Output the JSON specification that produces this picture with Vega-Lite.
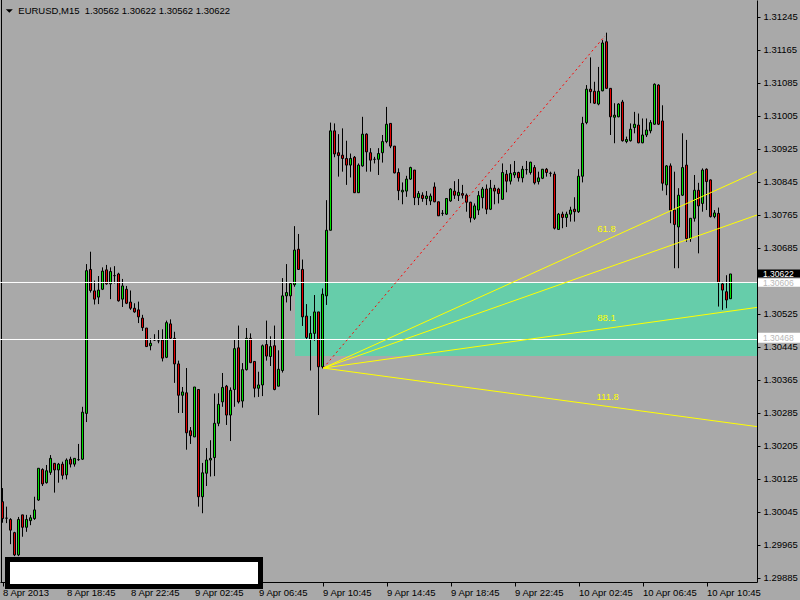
{
"$schema":"https://vega.github.io/schema/vega-lite/v6.json",
"width":757,"height":582,
"autosize":{"type":"none"},
"padding":{"left":0,"top":0,"right":43,"bottom":18},
"background":"#a9a9a9",
"config":{"view":{"stroke":null,"fill":"#a9a9a9"},"font":"Liberation Sans"},
"resolve":{"axis":{"x":"independent","y":"independent"}},
"datasets":{"candles":[
{"i":0,"o":1.30070,"h":1.30103,"l":1.30019,"c":1.30029},
{"i":1,"o":1.30030,"h":1.30058,"l":1.30018,"c":1.30030},
{"i":2,"o":1.30027,"h":1.30030,"l":1.29967,"c":1.30001},
{"i":3,"o":1.29995,"h":1.29997,"l":1.29938,"c":1.29941},
{"i":4,"o":1.29941,"h":1.30033,"l":1.29938,"c":1.30027},
{"i":5,"o":1.30038,"h":1.30038,"l":1.29985,"c":1.30008},
{"i":6,"o":1.30008,"h":1.30038,"l":1.29997,"c":1.30027},
{"i":7,"o":1.30024,"h":1.30038,"l":1.30013,"c":1.30031},
{"i":8,"o":1.30029,"h":1.30082,"l":1.30026,"c":1.30050},
{"i":9,"o":1.30074,"h":1.30151,"l":1.30072,"c":1.30151},
{"i":10,"o":1.30148,"h":1.30151,"l":1.30108,"c":1.30113},
{"i":11,"o":1.30116,"h":1.30159,"l":1.30114,"c":1.30145},
{"i":12,"o":1.30141,"h":1.30183,"l":1.30135,"c":1.30175},
{"i":13,"o":1.30163,"h":1.30163,"l":1.30092,"c":1.30147},
{"i":14,"o":1.30147,"h":1.30164,"l":1.30116,"c":1.30161},
{"i":15,"o":1.30161,"h":1.30167,"l":1.30124,"c":1.30134},
{"i":16,"o":1.30135,"h":1.30175,"l":1.30124,"c":1.30171},
{"i":17,"o":1.30173,"h":1.30179,"l":1.30153,"c":1.30161},
{"i":18,"o":1.30161,"h":1.30175,"l":1.30155,"c":1.30175},
{"i":19,"o":1.30172,"h":1.30210,"l":1.30169,"c":1.30172},
{"i":20,"o":1.30173,"h":1.30300,"l":1.30171,"c":1.30287},
{"i":21,"o":1.30284,"h":1.30646,"l":1.30263,"c":1.30630},
{"i":22,"o":1.30633,"h":1.30676,"l":1.30577,"c":1.30582},
{"i":23,"o":1.30581,"h":1.30606,"l":1.30548,"c":1.30561},
{"i":24,"o":1.30566,"h":1.30617,"l":1.30549,"c":1.30583},
{"i":25,"o":1.30585,"h":1.30638,"l":1.30583,"c":1.30629},
{"i":26,"o":1.30632,"h":1.30644,"l":1.30596,"c":1.30598},
{"i":27,"o":1.30598,"h":1.30638,"l":1.30561,"c":1.30628},
{"i":28,"o":1.30618,"h":1.30641,"l":1.30599,"c":1.30618},
{"i":29,"o":1.30622,"h":1.30625,"l":1.30555,"c":1.30557},
{"i":30,"o":1.30561,"h":1.30610,"l":1.30542,"c":1.30593},
{"i":31,"o":1.30585,"h":1.30593,"l":1.30549,"c":1.30551},
{"i":32,"o":1.30554,"h":1.30582,"l":1.30535,"c":1.30539},
{"i":33,"o":1.30539,"h":1.30551,"l":1.30528,"c":1.30530},
{"i":34,"o":1.30535,"h":1.30555,"l":1.30503,"c":1.30518},
{"i":35,"o":1.30515,"h":1.30523,"l":1.30484,"c":1.30492},
{"i":36,"o":1.30491,"h":1.30491,"l":1.30445,"c":1.30446},
{"i":37,"o":1.30448,"h":1.30466,"l":1.30437,"c":1.30454},
{"i":38,"o":1.30462,"h":1.30476,"l":1.30460,"c":1.30462},
{"i":39,"o":1.30460,"h":1.30486,"l":1.30454,"c":1.30460},
{"i":40,"o":1.30462,"h":1.30488,"l":1.30410,"c":1.30418},
{"i":41,"o":1.30420,"h":1.30509,"l":1.30418,"c":1.30504},
{"i":42,"o":1.30501,"h":1.30512,"l":1.30464,"c":1.30466},
{"i":43,"o":1.30466,"h":1.30482,"l":1.30358,"c":1.30404},
{"i":44,"o":1.30404,"h":1.30412,"l":1.30285,"c":1.30328},
{"i":45,"o":1.30328,"h":1.30348,"l":1.30285,"c":1.30336},
{"i":46,"o":1.30334,"h":1.30394,"l":1.30196,"c":1.30237},
{"i":47,"o":1.30242,"h":1.30251,"l":1.30210,"c":1.30230},
{"i":48,"o":1.30227,"h":1.30348,"l":1.30227,"c":1.30348},
{"i":49,"o":1.30342,"h":1.30342,"l":1.30058,"c":1.30082},
{"i":50,"o":1.30082,"h":1.30164,"l":1.30042,"c":1.30140},
{"i":51,"o":1.30139,"h":1.30200,"l":1.30108,"c":1.30171},
{"i":52,"o":1.30171,"h":1.30219,"l":1.30131,"c":1.30175},
{"i":53,"o":1.30177,"h":1.30332,"l":1.30132,"c":1.30260},
{"i":54,"o":1.30260,"h":1.30333,"l":1.30253,"c":1.30306},
{"i":55,"o":1.30312,"h":1.30382,"l":1.30300,"c":1.30347},
{"i":56,"o":1.30350,"h":1.30353,"l":1.30256,"c":1.30280},
{"i":57,"o":1.30280,"h":1.30347,"l":1.30217,"c":1.30340},
{"i":58,"o":1.30342,"h":1.30462,"l":1.30300,"c":1.30441},
{"i":59,"o":1.30443,"h":1.30497,"l":1.30308,"c":1.30312},
{"i":60,"o":1.30314,"h":1.30406,"l":1.30298,"c":1.30390},
{"i":61,"o":1.30390,"h":1.30491,"l":1.30388,"c":1.30466},
{"i":62,"o":1.30466,"h":1.30478,"l":1.30406,"c":1.30407},
{"i":63,"o":1.30410,"h":1.30410,"l":1.30323,"c":1.30345},
{"i":64,"o":1.30345,"h":1.30385,"l":1.30324,"c":1.30353},
{"i":65,"o":1.30353,"h":1.30451,"l":1.30326,"c":1.30448},
{"i":66,"o":1.30451,"h":1.30509,"l":1.30412,"c":1.30423},
{"i":67,"o":1.30422,"h":1.30471,"l":1.30399,"c":1.30446},
{"i":68,"o":1.30448,"h":1.30497,"l":1.30340,"c":1.30342},
{"i":69,"o":1.30350,"h":1.30437,"l":1.30350,"c":1.30391},
{"i":70,"o":1.30388,"h":1.30612,"l":1.30383,"c":1.30569},
{"i":71,"o":1.30569,"h":1.30646,"l":1.30553,"c":1.30577},
{"i":72,"o":1.30569,"h":1.30599,"l":1.30533,"c":1.30599},
{"i":73,"o":1.30596,"h":1.30738,"l":1.30591,"c":1.30680},
{"i":74,"o":1.30682,"h":1.30719,"l":1.30632,"c":1.30633},
{"i":75,"o":1.30633,"h":1.30657,"l":1.30496,"c":1.30518},
{"i":76,"o":1.30520,"h":1.30549,"l":1.30464,"c":1.30468},
{"i":77,"o":1.30464,"h":1.30520,"l":1.30388,"c":1.30478},
{"i":78,"o":1.30478,"h":1.30571,"l":1.30460,"c":1.30530},
{"i":79,"o":1.30530,"h":1.30530,"l":1.30280,"c":1.30397},
{"i":80,"o":1.30397,"h":1.30587,"l":1.30393,"c":1.30573},
{"i":81,"o":1.30569,"h":1.30801,"l":1.30547,"c":1.30728},
{"i":82,"o":1.30728,"h":1.30989,"l":1.30728,"c":1.30969},
{"i":83,"o":1.30969,"h":1.30987,"l":1.30905,"c":1.30913},
{"i":84,"o":1.30916,"h":1.30961,"l":1.30858,"c":1.30909},
{"i":85,"o":1.30910,"h":1.30975,"l":1.30870,"c":1.30902},
{"i":86,"o":1.30902,"h":1.30945,"l":1.30838,"c":1.30886},
{"i":87,"o":1.30886,"h":1.30914,"l":1.30856,"c":1.30902},
{"i":88,"o":1.30905,"h":1.30908,"l":1.30819,"c":1.30819},
{"i":89,"o":1.30819,"h":1.30890,"l":1.30819,"c":1.30886},
{"i":90,"o":1.30884,"h":1.31003,"l":1.30882,"c":1.30961},
{"i":91,"o":1.30961,"h":1.30963,"l":1.30870,"c":1.30918},
{"i":92,"o":1.30916,"h":1.30927,"l":1.30870,"c":1.30898},
{"i":93,"o":1.30900,"h":1.30906,"l":1.30890,"c":1.30900},
{"i":94,"o":1.30900,"h":1.30927,"l":1.30862,"c":1.30914},
{"i":95,"o":1.30916,"h":1.30959,"l":1.30892,"c":1.30943},
{"i":96,"o":1.30943,"h":1.31027,"l":1.30939,"c":1.30985},
{"i":97,"o":1.30987,"h":1.30987,"l":1.30927,"c":1.30932},
{"i":98,"o":1.30932,"h":1.30932,"l":1.30866,"c":1.30867},
{"i":99,"o":1.30868,"h":1.30878,"l":1.30801,"c":1.30824},
{"i":100,"o":1.30821,"h":1.30844,"l":1.30791,"c":1.30825},
{"i":101,"o":1.30823,"h":1.30860,"l":1.30809,"c":1.30852},
{"i":102,"o":1.30852,"h":1.30882,"l":1.30850,"c":1.30880},
{"i":103,"o":1.30874,"h":1.30874,"l":1.30789,"c":1.30807},
{"i":104,"o":1.30807,"h":1.30823,"l":1.30789,"c":1.30817},
{"i":105,"o":1.30813,"h":1.30820,"l":1.30797,"c":1.30805},
{"i":106,"o":1.30805,"h":1.30823,"l":1.30789,"c":1.30811},
{"i":107,"o":1.30799,"h":1.30817,"l":1.30789,"c":1.30811},
{"i":108,"o":1.30833,"h":1.30844,"l":1.30796,"c":1.30797},
{"i":109,"o":1.30797,"h":1.30797,"l":1.30763,"c":1.30763},
{"i":110,"o":1.30769,"h":1.30777,"l":1.30763,"c":1.30769},
{"i":111,"o":1.30767,"h":1.30805,"l":1.30765,"c":1.30805},
{"i":112,"o":1.30799,"h":1.30830,"l":1.30797,"c":1.30828},
{"i":113,"o":1.30823,"h":1.30847,"l":1.30804,"c":1.30813},
{"i":114,"o":1.30812,"h":1.30852,"l":1.30799,"c":1.30820},
{"i":115,"o":1.30817,"h":1.30838,"l":1.30805,"c":1.30813},
{"i":116,"o":1.30813,"h":1.30817,"l":1.30773,"c":1.30796},
{"i":117,"o":1.30796,"h":1.30797,"l":1.30747,"c":1.30758},
{"i":118,"o":1.30757,"h":1.30793,"l":1.30753,"c":1.30787},
{"i":119,"o":1.30777,"h":1.30823,"l":1.30765,"c":1.30812},
{"i":120,"o":1.30807,"h":1.30833,"l":1.30781,"c":1.30828},
{"i":121,"o":1.30828,"h":1.30839,"l":1.30767,"c":1.30779},
{"i":122,"o":1.30779,"h":1.30850,"l":1.30777,"c":1.30830},
{"i":123,"o":1.30830,"h":1.30838,"l":1.30791,"c":1.30823},
{"i":124,"o":1.30828,"h":1.30831,"l":1.30793,"c":1.30817},
{"i":125,"o":1.30803,"h":1.30890,"l":1.30803,"c":1.30868},
{"i":126,"o":1.30864,"h":1.30874,"l":1.30820,"c":1.30847},
{"i":127,"o":1.30847,"h":1.30888,"l":1.30839,"c":1.30866},
{"i":128,"o":1.30862,"h":1.30896,"l":1.30855,"c":1.30868},
{"i":129,"o":1.30868,"h":1.30870,"l":1.30846,"c":1.30855},
{"i":130,"o":1.30855,"h":1.30884,"l":1.30844,"c":1.30876},
{"i":131,"o":1.30875,"h":1.30896,"l":1.30863,"c":1.30875},
{"i":132,"o":1.30868,"h":1.30894,"l":1.30863,"c":1.30893},
{"i":133,"o":1.30880,"h":1.30886,"l":1.30839,"c":1.30843},
{"i":134,"o":1.30846,"h":1.30870,"l":1.30839,"c":1.30855},
{"i":135,"o":1.30854,"h":1.30876,"l":1.30852,"c":1.30876},
{"i":136,"o":1.30876,"h":1.30879,"l":1.30858,"c":1.30868},
{"i":137,"o":1.30866,"h":1.30870,"l":1.30858,"c":1.30866},
{"i":138,"o":1.30864,"h":1.30870,"l":1.30730,"c":1.30733},
{"i":139,"o":1.30730,"h":1.30770,"l":1.30730,"c":1.30767},
{"i":140,"o":1.30767,"h":1.30773,"l":1.30733,"c":1.30759},
{"i":141,"o":1.30759,"h":1.30773,"l":1.30736,"c":1.30767},
{"i":142,"o":1.30767,"h":1.30785,"l":1.30749,"c":1.30777},
{"i":143,"o":1.30779,"h":1.30808,"l":1.30749,"c":1.30773},
{"i":144,"o":1.30773,"h":1.30876,"l":1.30770,"c":1.30859},
{"i":145,"o":1.30859,"h":1.31003,"l":1.30844,"c":1.30987},
{"i":146,"o":1.30989,"h":1.31080,"l":1.30985,"c":1.31070},
{"i":147,"o":1.31070,"h":1.31147,"l":1.31036,"c":1.31064},
{"i":148,"o":1.31065,"h":1.31088,"l":1.31034,"c":1.31036},
{"i":149,"o":1.31034,"h":1.31124,"l":1.31031,"c":1.31065},
{"i":150,"o":1.31066,"h":1.31189,"l":1.31065,"c":1.31182},
{"i":151,"o":1.31185,"h":1.31207,"l":1.31072,"c":1.31072},
{"i":152,"o":1.31072,"h":1.31072,"l":1.30959,"c":1.31003},
{"i":153,"o":1.31002,"h":1.31036,"l":1.30939,"c":1.31007},
{"i":154,"o":1.31003,"h":1.31036,"l":1.31002,"c":1.31034},
{"i":155,"o":1.31039,"h":1.31044,"l":1.30943,"c":1.30945},
{"i":156,"o":1.30943,"h":1.30955,"l":1.30939,"c":1.30948},
{"i":157,"o":1.30945,"h":1.30987,"l":1.30943,"c":1.30973},
{"i":158,"o":1.30977,"h":1.31015,"l":1.30963,"c":1.30985},
{"i":159,"o":1.30983,"h":1.31011,"l":1.30939,"c":1.30940},
{"i":160,"o":1.30940,"h":1.30999,"l":1.30939,"c":1.30959},
{"i":161,"o":1.30959,"h":1.30999,"l":1.30954,"c":1.30971},
{"i":162,"o":1.30969,"h":1.30995,"l":1.30963,"c":1.30989},
{"i":163,"o":1.30985,"h":1.31084,"l":1.30984,"c":1.31082},
{"i":164,"o":1.31080,"h":1.31082,"l":1.30983,"c":1.30985},
{"i":165,"o":1.30993,"h":1.31031,"l":1.30824,"c":1.30842},
{"i":166,"o":1.30838,"h":1.30886,"l":1.30813,"c":1.30884},
{"i":167,"o":1.30884,"h":1.30890,"l":1.30745,"c":1.30777},
{"i":168,"o":1.30777,"h":1.30870,"l":1.30636,"c":1.30742},
{"i":169,"o":1.30736,"h":1.30830,"l":1.30636,"c":1.30813},
{"i":170,"o":1.30813,"h":1.30963,"l":1.30811,"c":1.30880},
{"i":171,"o":1.30886,"h":1.30947,"l":1.30700,"c":1.30708},
{"i":172,"o":1.30708,"h":1.30757,"l":1.30700,"c":1.30757},
{"i":173,"o":1.30757,"h":1.30862,"l":1.30749,"c":1.30825},
{"i":174,"o":1.30825,"h":1.30843,"l":1.30672,"c":1.30787},
{"i":175,"o":1.30793,"h":1.30878,"l":1.30773,"c":1.30874},
{"i":176,"o":1.30876,"h":1.30878,"l":1.30777,"c":1.30846},
{"i":177,"o":1.30850,"h":1.30851,"l":1.30759,"c":1.30761},
{"i":178,"o":1.30761,"h":1.30777,"l":1.30757,"c":1.30770},
{"i":179,"o":1.30769,"h":1.30783,"l":1.30543,"c":1.30601},
{"i":180,"o":1.30598,"h":1.30603,"l":1.30535,"c":1.30583},
{"i":181,"o":1.30579,"h":1.30619,"l":1.30539,"c":1.30559},
{"i":182,"o":1.30562,"h":1.30622,"l":1.30562,"c":1.30622}
]},
"layer":[
{"data":{"values":[{"x1":73.125,"x2":188.625,"p1":1.30600,"p2":1.30423}]},
 "mark":{"type":"rect","fill":"#66cdaa"},
 "encoding":{"x":{"field":"x1","type":"quantitative","scale":{"domain":[-0.625,188.625],"nice":false,"zero":false,"padding":0},"axis":null},"x2":{"field":"x2"},
  "y":{"field":"p1","type":"quantitative","scale":{"domain":[1.298753,1.312862],"nice":false,"zero":false,"padding":0},"axis":null},"y2":{"field":"p2"}}},
{"data":{"values":[{"x":-0.25}]},
 "mark":{"type":"rule","color":"black","strokeWidth":1},
 "encoding":{"x":{"field":"x","type":"quantitative","scale":{"domain":[-0.625,188.625],"nice":false,"zero":false,"padding":0},"axis":null}}},
{"data":{"name":"candles"},
 "mark":{"type":"rule","color":"black","strokeWidth":1},
 "encoding":{
  "x":{"field":"i","type":"quantitative","scale":{"domain":[-0.625,188.625],"nice":false,"zero":false,"padding":0},
   "axis":{"orient":"bottom","title":null,"grid":false,"values":[0,16,32,48,64,80,96,112,128,144,160,176],
    "labelExpr":"['8 Apr 2013','8 Apr 18:45','8 Apr 22:45','9 Apr 02:45','9 Apr 06:45','9 Apr 10:45','9 Apr 14:45','9 Apr 18:45','9 Apr 22:45','10 Apr 02:45','10 Apr 06:45','10 Apr 10:45'][round(datum.value/16)]",
    "labelAlign":"left","labelBaseline":"top","labelPadding":1,"tickSize":4,"tickColor":"black","domainColor":"black","labelColor":"black",
    "labelFont":"Liberation Sans","labelFontSize":9.5,"labelOverlap":false,"labelBound":false,"labelFlush":false}},
  "y":{"field":"l","type":"quantitative","scale":{"domain":[1.298753,1.312862],"nice":false,"zero":false,"padding":0},
   "axis":{"orient":"right","title":null,"grid":false,
    "values":[1.29885,1.29965,1.30045,1.30125,1.30205,1.30285,1.30365,1.30445,1.30525,1.30685,1.30765,1.30845,1.30925,1.31005,1.31085,1.31165,1.31245],
    "format":".5f","tickSize":3,"labelPadding":3,"tickColor":"black","domainColor":"black","labelColor":"black",
    "labelFont":"Liberation Sans","labelFontSize":9.5,"labelOverlap":false,"labelBound":false,"labelFlush":false}},
  "y2":{"field":"h"}}},
{"data":{"name":"candles"},
 "mark":{"type":"bar","size":2,"stroke":"black","strokeWidth":1},
 "encoding":{
  "x":{"field":"i","type":"quantitative","scale":{"domain":[-0.625,188.625],"nice":false,"zero":false,"padding":0},"axis":null},
  "y":{"field":"o","type":"quantitative","scale":{"domain":[1.298753,1.312862],"nice":false,"zero":false,"padding":0},"axis":null},
  "y2":{"field":"c"},
  "color":{"condition":{"test":"datum.c >= datum.o","value":"#00e000"},"value":"#e00000"}}},
{"data":{"values":[{"p":1.306014},{"p":1.304632}]},
 "mark":{"type":"rule","color":"white","strokeWidth":1},
 "encoding":{"y":{"field":"p","type":"quantitative","scale":{"domain":[1.298753,1.312862],"nice":false,"zero":false,"padding":0},"axis":null}}},
{"data":{"values":[{"x1":80.2,"p1":1.30394,"x2":150.6,"p2":1.31199}]},
 "mark":{"type":"rule","color":"#ff0000","strokeWidth":1,"strokeDash":[2,3]},
 "encoding":{"x":{"field":"x1","type":"quantitative","scale":{"domain":[-0.625,188.625],"nice":false,"zero":false,"padding":0},"axis":null},"x2":{"field":"x2"},
  "y":{"field":"p1","type":"quantitative","scale":{"domain":[1.298753,1.312862],"nice":false,"zero":false,"padding":0},"axis":null},"y2":{"field":"p2"}}},
{"data":{"values":[{"x1":80.2,"p1":1.30394,"x2":188.625,"p2":1.30870},{"x1":80.2,"p1":1.30394,"x2":188.625,"p2":1.30765},{"x1":80.2,"p1":1.30394,"x2":188.625,"p2":1.30541},{"x1":80.2,"p1":1.30394,"x2":188.625,"p2":1.30252}]},
 "mark":{"type":"rule","color":"#ffff00","strokeWidth":1},
 "encoding":{"x":{"field":"x1","type":"quantitative","scale":{"domain":[-0.625,188.625],"nice":false,"zero":false,"padding":0},"axis":null},"x2":{"field":"x2"},
  "y":{"field":"p1","type":"quantitative","scale":{"domain":[1.298753,1.312862],"nice":false,"zero":false,"padding":0},"axis":null},"y2":{"field":"p2"}}},
{"data":{"values":[{"x":151.0,"p":1.30731,"t":"61.8"},{"x":151.0,"p":1.30516,"t":"88.1"},{"x":151.3,"p":1.30324,"t":"111.8"}]},
 "mark":{"type":"text","color":"#ffff00","font":"Liberation Sans","fontSize":9.5,"align":"center","baseline":"middle"},
 "encoding":{"x":{"field":"x","type":"quantitative","scale":{"domain":[-0.625,188.625],"nice":false,"zero":false,"padding":0},"axis":null},
  "y":{"field":"p","type":"quantitative","scale":{"domain":[1.298753,1.312862],"nice":false,"zero":false,"padding":0},"axis":null},"text":{"field":"t"}}},
{"data":{"values":[{"x1":1.25,"x2":64.5,"p1":1.299298,"p2":1.298644}]},
 "mark":{"type":"rect","fill":"white","stroke":"black","strokeWidth":5},
 "encoding":{"x":{"field":"x1","type":"quantitative","scale":{"domain":[-0.625,188.625],"nice":false,"zero":false,"padding":0},"axis":null},"x2":{"field":"x2"},
  "y":{"field":"p1","type":"quantitative","scale":{"domain":[1.298753,1.312862],"nice":false,"zero":false,"padding":0},"axis":null},"y2":{"field":"p2"}}},
{"data":{"values":[{"x":1.7,"p":1.312595}]},
 "mark":{"type":"point","shape":"M-1,-0.5L1,-0.5L0,0.5Z","size":49,"filled":true,"color":"black","opacity":1},
 "encoding":{"x":{"field":"x","type":"quantitative","scale":{"domain":[-0.625,188.625],"nice":false,"zero":false,"padding":0},"axis":null},
  "y":{"field":"p","type":"quantitative","scale":{"domain":[1.298753,1.312862],"nice":false,"zero":false,"padding":0},"axis":null}}},
{"data":{"values":[{"x":3.95,"p":1.312595,"t":"EURUSD,M15\u00a0 1.30562 1.30622 1.30562 1.30622"}]},
 "mark":{"type":"text","color":"black","font":"Liberation Sans","fontSize":9.5,"align":"left","baseline":"middle"},
 "encoding":{"x":{"field":"x","type":"quantitative","scale":{"domain":[-0.625,188.625],"nice":false,"zero":false,"padding":0},"axis":null},
  "y":{"field":"p","type":"quantitative","scale":{"domain":[1.298753,1.312862],"nice":false,"zero":false,"padding":0},"axis":null},"text":{"field":"t"}}},
{"data":{"values":[{"x1":188.875,"x2":199.375,"p1":1.306329,"p2":1.306135}]},
 "mark":{"type":"rect","fill":"black"},
 "encoding":{"x":{"field":"x1","type":"quantitative","scale":{"domain":[-0.625,188.625],"nice":false,"zero":false,"padding":0},"axis":null},"x2":{"field":"x2"},
  "y":{"field":"p1","type":"quantitative","scale":{"domain":[1.298753,1.312862],"nice":false,"zero":false,"padding":0},"axis":null},"y2":{"field":"p2"}}},
{"data":{"values":[{"x1":188.875,"x2":199.375,"p1":1.306110,"p2":1.305912},{"x1":188.875,"x2":199.375,"p1":1.304797,"p2":1.304554}]},
 "mark":{"type":"rect","fill":"white"},
 "encoding":{"x":{"field":"x1","type":"quantitative","scale":{"domain":[-0.625,188.625],"nice":false,"zero":false,"padding":0},"axis":null},"x2":{"field":"x2"},
  "y":{"field":"p1","type":"quantitative","scale":{"domain":[1.298753,1.312862],"nice":false,"zero":false,"padding":0},"axis":null},"y2":{"field":"p2"}}},
{"data":{"values":[{"x":190.125,"p":1.30623,"t":"1.30622"}]},
 "mark":{"type":"text","color":"white","font":"Liberation Sans","fontSize":8.5,"align":"left","baseline":"middle"},
 "encoding":{"x":{"field":"x","type":"quantitative","scale":{"domain":[-0.625,188.625],"nice":false,"zero":false,"padding":0},"axis":null},
  "y":{"field":"p","type":"quantitative","scale":{"domain":[1.298753,1.312862],"nice":false,"zero":false,"padding":0},"axis":null},"text":{"field":"t"}}},
{"data":{"values":[{"x":190.125,"p":1.306005,"t":"1.30606"},{"x":190.125,"p":1.304675,"t":"1.30468"}]},
 "mark":{"type":"text","color":"#b8b8b8","font":"Liberation Sans","fontSize":8.5,"align":"left","baseline":"middle"},
 "encoding":{"x":{"field":"x","type":"quantitative","scale":{"domain":[-0.625,188.625],"nice":false,"zero":false,"padding":0},"axis":null},
  "y":{"field":"p","type":"quantitative","scale":{"domain":[1.298753,1.312862],"nice":false,"zero":false,"padding":0},"axis":null},"text":{"field":"t"}}}
]
}
